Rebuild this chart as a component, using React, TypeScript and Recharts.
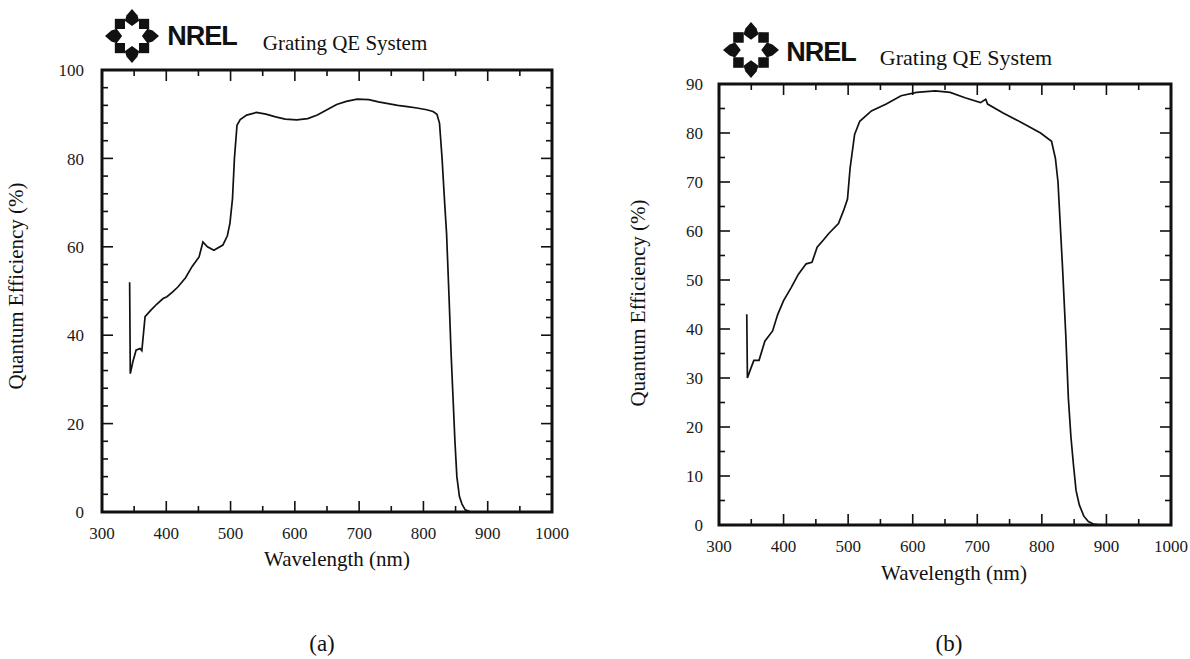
import React from 'react';
import { LineChart, Line, XAxis, YAxis, ReferenceArea } from 'recharts';

const FONT = '"Liberation Serif", "Times New Roman", serif';
const INK = '#111';

// panel (a) - QE curve
const wavelengthA = [
  343, 344, 348, 353, 359, 362, 367, 375, 385, 395, 401, 410, 418, 430, 440, 451, 457, 464, 474, 488,
  495, 499, 503, 506, 510, 515, 525, 540, 555, 570, 585, 603, 620, 635, 650, 665, 680, 697, 715, 730,
  745, 760, 775, 790, 805, 815, 821, 825, 829, 833, 836, 840, 843, 846, 849, 852, 856, 860, 865, 872,
  880, 900,
];
const qeA = [
  52, 31.3, 34, 36.6, 37, 36.5, 44.2, 45.5, 47, 48.3, 48.7, 49.8, 50.9, 53, 55.5, 57.7, 61.1, 60, 59.2, 60.4,
  62.5, 65.3, 70.9, 80, 87.5, 88.8, 89.8, 90.4, 90, 89.4, 88.9, 88.7, 89, 89.8, 91, 92.2, 92.9, 93.4, 93.3, 92.8,
  92.4, 92, 91.7, 91.4, 91, 90.6, 90, 88, 80, 70, 63, 48, 36, 26, 16, 8, 3.5, 1.8, 0.5, 0.1,
  0, 0,
];

// panel (b)
const wavelengthB = [
  343, 344, 348, 354, 362, 371, 383, 391, 400, 412, 423, 435, 444, 452, 462, 470, 485, 493, 499, 503,
  510, 518, 536, 559, 582, 606, 635, 658, 681, 705, 713, 716, 740, 769, 798, 815, 821, 825, 829, 832,
  837, 841, 845, 849, 853, 858, 865, 872, 880, 890,
];
const qeB = [
  43, 30, 31.5, 33.6, 33.6, 37.5, 39.6, 43, 45.8, 48.5, 51.2, 53.3, 53.6, 56.7, 58.2, 59.5, 61.5, 64.2, 66.5, 72.8,
  79.7, 82.4, 84.5, 85.9, 87.6, 88.3, 88.6, 88.3, 87.2, 86.2, 86.9, 85.9, 84.1, 82.1, 80, 78.3, 74.8, 70, 60, 52.6,
  38.9, 26, 18, 12.2, 7, 4.1, 1.8, 0.7, 0.2, 0,
];

const xTicks = [300, 350, 400, 450, 500, 550, 600, 650, 700, 750, 800, 850, 900, 950, 1000];
const yTicksA = [0, 4, 8, 12, 16, 20, 24, 28, 32, 36, 40, 44, 48, 52, 56, 60, 64, 68, 72, 76, 80, 84, 88, 92, 96, 100];
const yTicksB = [0, 5, 10, 15, 20, 25, 30, 35, 40, 45, 50, 55, 60, 65, 70, 75, 80, 85, 90];

const toRows = (w: number[], q: number[]) => w.map((v, i) => ({ wl: v, qe: q[i] }));

// ticks point into the frame, labels only on the major ones
const tickFor = (side: string, majorStep: number, gap = 18) => (props: any) => {
  const { x, y, payload } = props;
  const v = payload.value;
  const major = v % majorStep === 0;
  const len = major ? 11 : 6;
  const ln = { stroke: INK, strokeWidth: 1.6 };
  const txt = { fontFamily: FONT, fontSize: 17, fill: '#1a1a1a' };
  if (side === 'left') {
    return (
      <g>
        <line x1={x} y1={y} x2={x + len} y2={y} {...ln} />
        {major && <text x={x - gap} y={y} dy="0.36em" textAnchor="end" {...txt}>{v}</text>}
      </g>
    );
  }
  if (side === 'right') return <line x1={x} y1={y} x2={x - len} y2={y} {...ln} />;
  if (side === 'top') return <line x1={x} y1={y} x2={x} y2={y + len} {...ln} />;
  return (
    <g>
      <line x1={x} y1={y} x2={x} y2={y - len} {...ln} />
      {major && <text x={x} y={y + gap} dy="0.36em" textAnchor="middle" {...txt}>{v}</text>}
    </g>
  );
};

const Panel = ({ left, width, margin, yWidth, rows, yMax, yTicks, yMajor, yGap, xGap }: any) => (
  <div style={{ position: 'absolute', left, top: 0 }}>
    <LineChart width={width} height={600} data={rows} margin={margin}>
      <XAxis xAxisId="b" dataKey="wl" type="number" domain={[300, 1000]} ticks={xTicks} interval={0}
        height={40} tickSize={0} tickMargin={0} tickLine={false} axisLine={false}
        tick={tickFor('bottom', 100, xGap)} allowDataOverflow />
      <XAxis xAxisId="t" dataKey="wl" orientation="top" type="number" domain={[300, 1000]} ticks={xTicks}
        interval={0} height={1} tickSize={0} tickMargin={0} tickLine={false} axisLine={false}
        tick={tickFor('top', 100)} allowDataOverflow />
      <YAxis yAxisId="l" type="number" domain={[0, yMax]} ticks={yTicks} interval={0} width={yWidth}
        tickSize={0} tickMargin={0} tickLine={false} axisLine={false}
        tick={tickFor('left', yMajor, yGap)} allowDataOverflow />
      <YAxis yAxisId="r" orientation="right" type="number" domain={[0, yMax]} ticks={yTicks} interval={0}
        width={1} tickSize={0} tickMargin={0} tickLine={false} axisLine={false}
        tick={tickFor('right', yMajor)} allowDataOverflow />
      <ReferenceArea xAxisId="b" yAxisId="l" x1={300} x2={1000} y1={0} y2={yMax}
        fill="none" fillOpacity={0} stroke={INK} strokeWidth={3} ifOverflow="visible" />
      <Line xAxisId="b" yAxisId="l" dataKey="qe" type="linear" stroke={INK} strokeWidth={1.7}
        dot={false} isAnimationActive={false} />
    </LineChart>
  </div>
);

const Txt = ({ cx, cy, size, rotate, style, children }: any) => (
  <div
    style={{
      position: 'absolute', left: cx, top: cy, whiteSpace: 'nowrap', lineHeight: 1,
      transform: `translate(-50%, -50%)${rotate ? ' rotate(-90deg)' : ''}`,
      fontFamily: FONT, fontSize: size, color: INK, ...style,
    }}
  >
    {children}
  </div>
);

// ring of diamonds next to the NREL wordmark
const Logo = ({ cx, cy, size }: any) => (
  <svg style={{ position: 'absolute', left: cx - size / 2, top: cy - size / 2 }} width={size} height={size} viewBox="-30 -30 60 60">
    {[0, 45, 90, 135, 180, 225, 270, 315].map((a) => (
      <g key={a} transform={`rotate(${a})`}>
        {a % 90 === 0
          ? <path d="M0,-30 L6,-23 L8,-17 L0,-11 L-8,-17 L-6,-23 Z" fill={INK} />
          : <path d="M0,-27 L8,-19 L0,-11 L-8,-19 Z" fill={INK} />}
      </g>
    ))}
    <circle r={10} fill="#fff" />
  </svg>
);

const wordmark = { fontFamily: '"Liberation Sans", Arial, sans-serif', fontWeight: 900, letterSpacing: -1 };

export default function App() {
  return (
    <div style={{ position: 'absolute', left: 0, top: 0, width: 1190, height: 659, background: '#fff', overflow: 'hidden' }}>
      <Panel left={0} width={600} margin={{ top: 69, right: 47, bottom: 48, left: 0 }} yWidth={102}
        rows={toRows(wavelengthA, qeA)} yMax={100} yTicks={yTicksA} yMajor={20} yGap={18} xGap={21} />
      <Panel left={600} width={590} margin={{ top: 83, right: 18, bottom: 35, left: 0 }} yWidth={119}
        rows={toRows(wavelengthB, qeB)} yMax={90} yTicks={yTicksB} yMajor={10} yGap={16} xGap={21} />

      <Logo cx={132} cy={36} size={54} />
      <Txt cx={202} cy={36} size={27} style={wordmark}>NREL</Txt>
      <Txt cx={345} cy={43} size={21}>Grating QE System</Txt>
      <Logo cx={751} cy={50} size={56} />
      <Txt cx={821} cy={52} size={27} style={wordmark}>NREL</Txt>
      <Txt cx={966} cy={58} size={22}>Grating QE System</Txt>

      <Txt cx={16} cy={286} size={21} rotate>Quantum Efficiency (%)</Txt>
      <Txt cx={638} cy={303} size={21} rotate>Quantum Efficiency (%)</Txt>
      <Txt cx={337} cy={559} size={21}>Wavelength (nm)</Txt>
      <Txt cx={954} cy={573} size={21}>Wavelength (nm)</Txt>

      <Txt cx={322} cy={643} size={23}>(a)</Txt>
      <Txt cx={949} cy={643} size={23}>(b)</Txt>
    </div>
  );
}
